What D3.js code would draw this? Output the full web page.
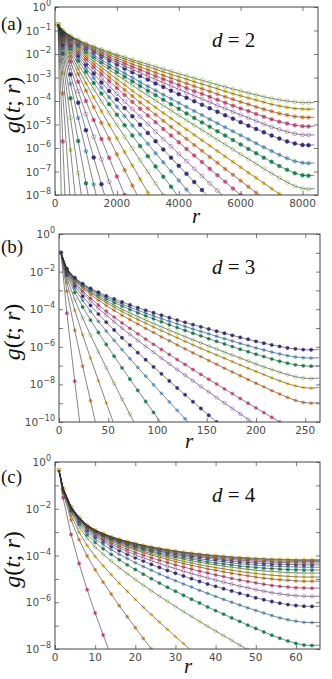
<!DOCTYPE html>
<html>
<head>
<meta charset="utf-8">
<script src="https://cdn.jsdelivr.net/npm/d3@7"></script>
<style>
  body { margin: 0; background: #fff; }
  .tick-label { font-family: 'DejaVu Sans', sans-serif; fill: #4a4a4a; }
  .math { font-family: 'Liberation Serif', 'DejaVu Serif', serif; fill: #111; }
</style>
</head>
<body>
<svg id="fig" width="332" height="679"></svg>
<script>
'use strict';

// ---- data: log10 g(t;r), one array per time t ----

// (a) d = 2
var rA = [100, 250, 500, 750, 1000, 1250, 1500, 1750, 2000, 2250, 2500, 2750, 3000, 3250, 3500, 3750,
    4000, 4250, 4500, 4750, 5000, 5250, 5500, 5750, 6000, 6250, 6500, 6750, 7000, 7250, 7500, 7750, 8000, 8192];
var logGA = [
    [-0.75,-1.00,-1.23,-1.40,-1.55,-1.68,-1.80,-1.91,-2.03,-2.13,-2.24,-2.34,-2.44,-2.54,-2.64,-2.74,-2.84,-2.93,-3.03,-3.12,-3.21,-3.31,-3.40,-3.49,-3.57,-3.66,-3.74,-3.82,-3.89,-3.95,-4.00,-4.04,-4.07,-4.07],
    [-0.75,-1.00,-1.25,-1.42,-1.58,-1.72,-1.85,-1.97,-2.09,-2.21,-2.32,-2.43,-2.54,-2.65,-2.76,-2.87,-2.97,-3.07,-3.18,-3.28,-3.38,-3.48,-3.59,-3.69,-3.78,-3.87,-3.96,-4.05,-4.14,-4.21,-4.27,-4.32,-4.34,-4.35],
    [-0.75,-1.01,-1.26,-1.45,-1.62,-1.77,-1.91,-2.04,-2.17,-2.30,-2.43,-2.55,-2.67,-2.79,-2.91,-3.02,-3.14,-3.25,-3.37,-3.48,-3.59,-3.71,-3.82,-3.93,-4.04,-4.14,-4.25,-4.35,-4.44,-4.53,-4.60,-4.66,-4.69,-4.70],
    [-0.75,-1.02,-1.28,-1.48,-1.66,-1.82,-1.97,-2.12,-2.26,-2.40,-2.54,-2.67,-2.81,-2.94,-3.07,-3.19,-3.32,-3.45,-3.58,-3.70,-3.82,-3.95,-4.07,-4.20,-4.32,-4.43,-4.55,-4.67,-4.78,-4.88,-4.96,-5.03,-5.07,-5.08],
    [-0.75,-1.02,-1.30,-1.51,-1.70,-1.87,-2.04,-2.20,-2.35,-2.50,-2.65,-2.80,-2.94,-3.08,-3.22,-3.36,-3.50,-3.64,-3.78,-3.91,-4.05,-4.19,-4.32,-4.46,-4.59,-4.72,-4.85,-4.98,-5.10,-5.21,-5.31,-5.39,-5.44,-5.45],
    [-0.75,-1.03,-1.32,-1.55,-1.75,-1.93,-2.11,-2.28,-2.45,-2.62,-2.78,-2.94,-3.09,-3.25,-3.40,-3.56,-3.71,-3.86,-4.01,-4.16,-4.31,-4.46,-4.61,-4.75,-4.90,-5.05,-5.19,-5.33,-5.47,-5.60,-5.72,-5.81,-5.87,-5.88],
    [-0.75,-1.05,-1.36,-1.61,-1.83,-2.04,-2.25,-2.44,-2.63,-2.82,-3.00,-3.19,-3.37,-3.55,-3.73,-3.90,-4.08,-4.25,-4.43,-4.60,-4.78,-4.95,-5.12,-5.29,-5.46,-5.63,-5.80,-5.97,-6.13,-6.29,-6.44,-6.56,-6.63,-6.65],
    [-0.75,-1.06,-1.38,-1.65,-1.89,-2.12,-2.34,-2.55,-2.76,-2.96,-3.16,-3.36,-3.56,-3.75,-3.95,-4.14,-4.33,-4.53,-4.72,-4.91,-5.10,-5.29,-5.47,-5.66,-5.85,-6.04,-6.22,-6.41,-6.59,-6.77,-6.93,-7.07,-7.16,-7.18],
    [-0.75,-1.07,-1.41,-1.70,-1.96,-2.20,-2.44,-2.67,-2.89,-3.11,-3.33,-3.55,-3.76,-3.98,-4.19,-4.40,-4.61,-4.82,-5.03,-5.23,-5.44,-5.65,-5.85,-6.06,-6.27,-6.47,-6.67,-6.88,-7.08,-7.27,-7.46,-7.62,-7.72,-7.75],
    [-0.75,-1.08,-1.45,-1.76,-2.04,-2.31,-2.57,-2.82,-3.07,-3.31,-3.56,-3.80,-4.03,-4.27,-4.51,-4.74,-4.97,-5.21,-5.44,-5.67,-5.90,-6.13,-6.36,-6.59,-6.82,-7.05,-7.27,-7.50,-7.73,-7.95,-8.18],
    [-0.75,-1.10,-1.49,-1.82,-2.13,-2.42,-2.70,-2.98,-3.25,-3.52,-3.79,-4.06,-4.32,-4.58,-4.84,-5.10,-5.36,-5.61,-5.87,-6.12,-6.38,-6.63,-6.89,-7.14,-7.39,-7.65,-7.90,-8.15],
    [-0.75,-1.11,-1.53,-1.89,-2.22,-2.54,-2.85,-3.15,-3.45,-3.74,-4.04,-4.33,-4.62,-4.90,-5.19,-5.47,-5.76,-6.04,-6.32,-6.60,-6.88,-7.16,-7.44,-7.72,-8.00,-8.28],
    [-0.75,-1.13,-1.58,-1.97,-2.33,-2.68,-3.02,-3.36,-3.69,-4.02,-4.34,-4.66,-4.98,-5.30,-5.62,-5.93,-6.25,-6.56,-6.88,-7.19,-7.50,-7.81,-8.12],
    [-0.75,-1.15,-1.63,-2.06,-2.45,-2.83,-3.21,-3.57,-3.94,-4.30,-4.65,-5.01,-5.36,-5.71,-6.06,-6.41,-6.76,-7.10,-7.45,-7.79,-8.14],
    [-0.75,-1.17,-1.70,-2.16,-2.60,-3.02,-3.43,-3.84,-4.24,-4.64,-5.04,-5.43,-5.82,-6.22,-6.61,-6.99,-7.38,-7.77,-8.16],
    [-0.75,-1.20,-1.77,-2.28,-2.76,-3.23,-3.68,-4.14,-4.59,-5.03,-5.47,-5.91,-6.35,-6.79,-7.22,-7.65,-8.09],
    [-0.75,-1.24,-1.86,-2.43,-2.97,-3.49,-4.01,-4.52,-5.02,-5.52,-6.02,-6.52,-7.01,-7.51,-8.00,-8.49],
    [-0.75,-1.28,-1.98,-2.62,-3.24,-3.84,-4.43,-5.01,-5.59,-6.17,-6.74,-7.32,-7.89,-8.46],
    [-0.75,-1.33,-2.12,-2.85,-3.56,-4.25,-4.93,-5.60,-6.27,-6.94,-7.60,-8.26],
    [-0.75,-1.41,-2.32,-3.18,-4.00,-4.81,-5.62,-6.42,-7.21,-8.00,-8.79],
    [-0.75,-1.50,-2.57,-3.58,-4.56,-5.52,-6.48,-7.43,-8.38],
    [-0.75,-1.61,-2.87,-4.07,-5.24,-6.40,-7.54,-8.68],
    [-0.75,-1.77,-3.27,-4.72,-6.14,-7.55,-8.95],
    [-0.75,-1.99,-3.88,-5.70,-7.50,-9.28],
    [-0.75,-2.31,-4.72,-7.07,-9.39],
    [-0.75,-2.82,-6.08,-9.28],
    [-0.75,-3.68,-8.37],
    [-0.75,-5.72,-13.82],
    [-0.75,-11.60]
];

// (b) d = 3
var rB = [2, 8, 16, 24, 32, 40, 48, 56, 64, 72, 80, 88, 96, 104, 112, 120, 128, 136, 144, 152,
    160, 168, 176, 184, 192, 200, 208, 216, 224, 232, 240, 248, 256];
var logGB = [
    [-1.00,-1.85,-2.32,-2.64,-2.89,-3.10,-3.29,-3.46,-3.62,-3.77,-3.92,-4.06,-4.19,-4.32,-4.45,-4.58,-4.70,-4.82,-4.94,-5.05,-5.17,-5.28,-5.39,-5.50,-5.60,-5.71,-5.81,-5.90,-5.98,-6.06,-6.11,-6.15,-6.16],
    [-1.00,-1.86,-2.35,-2.68,-2.94,-3.16,-3.37,-3.55,-3.73,-3.89,-4.05,-4.21,-4.36,-4.50,-4.64,-4.78,-4.92,-5.05,-5.18,-5.31,-5.44,-5.57,-5.69,-5.82,-5.94,-6.06,-6.17,-6.28,-6.38,-6.47,-6.54,-6.58,-6.60],
    [-1.00,-1.87,-2.37,-2.71,-2.99,-3.23,-3.45,-3.65,-3.83,-4.01,-4.19,-4.35,-4.51,-4.67,-4.83,-4.98,-5.13,-5.28,-5.42,-5.57,-5.71,-5.85,-5.99,-6.13,-6.26,-6.40,-6.52,-6.65,-6.77,-6.87,-6.96,-7.01,-7.03],
    [-1.00,-1.88,-2.41,-2.77,-3.07,-3.33,-3.56,-3.79,-4.00,-4.20,-4.39,-4.58,-4.76,-4.94,-5.11,-5.29,-5.46,-5.63,-5.79,-5.96,-6.12,-6.28,-6.44,-6.60,-6.76,-6.92,-7.07,-7.21,-7.35,-7.48,-7.59,-7.66,-7.69],
    [-1.00,-1.90,-2.44,-2.82,-3.13,-3.40,-3.66,-3.89,-4.12,-4.34,-4.55,-4.75,-4.95,-5.14,-5.33,-5.52,-5.71,-5.90,-6.08,-6.26,-6.44,-6.61,-6.79,-6.97,-7.14,-7.31,-7.48,-7.65,-7.81,-7.96,-8.08,-8.17,-8.20],
    [-1.00,-1.91,-2.48,-2.89,-3.22,-3.52,-3.80,-4.06,-4.32,-4.56,-4.79,-5.02,-5.24,-5.47,-5.68,-5.90,-6.11,-6.32,-6.52,-6.73,-6.93,-7.14,-7.34,-7.54,-7.74,-7.94,-8.13,-8.33,-8.51,-8.69,-8.85,-8.96,-9.00],
    [-1.00,-1.95,-2.57,-3.03,-3.42,-3.78,-4.11,-4.42,-4.73,-5.02,-5.31,-5.59,-5.87,-6.14,-6.41,-6.68,-6.94,-7.21,-7.47,-7.73,-7.98,-8.24,-8.49,-8.75,-9.00,-9.25,-9.50,-9.75,-10.00,-10.25],
    [-1.00,-1.98,-2.64,-3.13,-3.56,-3.95,-4.31,-4.67,-5.01,-5.34,-5.66,-5.98,-6.29,-6.60,-6.91,-7.21,-7.51,-7.81,-8.11,-8.40,-8.70,-8.99,-9.28,-9.57,-9.86,-10.14],
    [-1.00,-2.03,-2.75,-3.31,-3.80,-4.26,-4.69,-5.11,-5.52,-5.91,-6.31,-6.69,-7.07,-7.44,-7.82,-8.19,-8.55,-8.92,-9.28,-9.64,-10.00,-10.36],
    [-1.00,-2.09,-2.90,-3.54,-4.11,-4.65,-5.16,-5.66,-6.15,-6.63,-7.10,-7.56,-8.02,-8.48,-8.93,-9.38,-9.83,-10.28],
    [-1.00,-2.19,-3.11,-3.88,-4.58,-5.24,-5.88,-6.50,-7.12,-7.72,-8.32,-8.91,-9.49,-10.07],
    [-1.00,-2.35,-3.49,-4.47,-5.38,-6.26,-7.11,-7.95,-8.78,-9.59,-10.40],
    [-1.00,-2.59,-4.06,-5.36,-6.60,-7.80,-8.98,-10.15],
    [-1.00,-3.04,-5.12,-7.03,-8.87,-10.67],
    [-1.00,-4.21,-7.83,-11.29]
];

// (c) d = 4
var rC = [1, 2, 4, 6, 8, 10, 12, 14, 16, 18, 20, 22, 24, 26, 28, 30, 32, 34, 36, 38, 40,
    42, 44, 46, 48, 50, 52, 54, 56, 58, 60, 62, 64];
var logGC = [
    [-0.35,-1.13,-1.92,-2.37,-2.70,-2.91,-3.06,-3.19,-3.30,-3.40,-3.48,-3.56,-3.63,-3.69,-3.75,-3.80,-3.85,-3.89,-3.93,-3.97,-4.00,-4.03,-4.06,-4.08,-4.10,-4.12,-4.14,-4.15,-4.16,-4.17,-4.18,-4.18,-4.18],
    [-0.35,-1.13,-1.92,-2.37,-2.70,-2.91,-3.07,-3.20,-3.31,-3.40,-3.49,-3.57,-3.64,-3.70,-3.76,-3.82,-3.87,-3.91,-3.95,-3.99,-4.02,-4.05,-4.08,-4.11,-4.13,-4.15,-4.16,-4.18,-4.19,-4.20,-4.21,-4.21,-4.21],
    [-0.35,-1.13,-1.92,-2.38,-2.71,-2.92,-3.07,-3.21,-3.32,-3.42,-3.51,-3.59,-3.66,-3.73,-3.79,-3.84,-3.89,-3.94,-3.98,-4.02,-4.06,-4.09,-4.12,-4.15,-4.17,-4.19,-4.21,-4.23,-4.24,-4.25,-4.25,-4.26,-4.26],
    [-0.35,-1.14,-1.92,-2.38,-2.71,-2.93,-3.08,-3.22,-3.34,-3.44,-3.53,-3.61,-3.69,-3.76,-3.82,-3.88,-3.93,-3.98,-4.02,-4.07,-4.10,-4.14,-4.17,-4.20,-4.22,-4.25,-4.27,-4.28,-4.30,-4.31,-4.31,-4.32,-4.32],
    [-0.35,-1.14,-1.93,-2.39,-2.72,-2.94,-3.10,-3.24,-3.36,-3.46,-3.56,-3.64,-3.72,-3.79,-3.86,-3.92,-3.97,-4.03,-4.07,-4.12,-4.16,-4.20,-4.23,-4.27,-4.29,-4.32,-4.34,-4.36,-4.37,-4.38,-4.39,-4.40,-4.40],
    [-0.35,-1.14,-1.93,-2.40,-2.73,-2.96,-3.12,-3.26,-3.38,-3.49,-3.59,-3.68,-3.76,-3.83,-3.90,-3.97,-4.03,-4.08,-4.14,-4.19,-4.23,-4.27,-4.31,-4.35,-4.38,-4.41,-4.43,-4.45,-4.47,-4.48,-4.49,-4.50,-4.50],
    [-0.35,-1.14,-1.94,-2.41,-2.75,-2.97,-3.14,-3.29,-3.41,-3.52,-3.63,-3.72,-3.81,-3.89,-3.96,-4.03,-4.09,-4.15,-4.21,-4.27,-4.32,-4.36,-4.40,-4.45,-4.48,-4.51,-4.54,-4.56,-4.58,-4.60,-4.61,-4.62,-4.62],
    [-0.35,-1.14,-1.94,-2.42,-2.76,-2.99,-3.16,-3.31,-3.44,-3.56,-3.67,-3.76,-3.85,-3.94,-4.02,-4.09,-4.16,-4.23,-4.29,-4.35,-4.40,-4.46,-4.50,-4.55,-4.59,-4.63,-4.66,-4.68,-4.71,-4.73,-4.74,-4.75,-4.75],
    [-0.35,-1.15,-1.95,-2.43,-2.78,-3.02,-3.19,-3.35,-3.48,-3.61,-3.72,-3.82,-3.92,-4.01,-4.09,-4.17,-4.25,-4.32,-4.39,-4.46,-4.52,-4.57,-4.63,-4.68,-4.73,-4.77,-4.81,-4.84,-4.87,-4.89,-4.91,-4.92,-4.92],
    [-0.35,-1.15,-1.96,-2.45,-2.80,-3.04,-3.23,-3.39,-3.53,-3.66,-3.77,-3.88,-3.98,-4.08,-4.17,-4.26,-4.34,-4.42,-4.49,-4.57,-4.63,-4.70,-4.76,-4.82,-4.87,-4.92,-4.97,-5.00,-5.04,-5.06,-5.09,-5.10,-5.10],
    [-0.35,-1.15,-1.97,-2.47,-2.83,-3.09,-3.28,-3.45,-3.60,-3.74,-3.87,-3.98,-4.10,-4.20,-4.30,-4.40,-4.49,-4.58,-4.67,-4.75,-4.83,-4.90,-4.98,-5.05,-5.11,-5.17,-5.23,-5.28,-5.32,-5.35,-5.38,-5.39,-5.40],
    [-0.35,-1.16,-1.99,-2.50,-2.87,-3.14,-3.34,-3.52,-3.68,-3.83,-3.97,-4.10,-4.22,-4.34,-4.46,-4.56,-4.67,-4.77,-4.86,-4.96,-5.05,-5.14,-5.22,-5.31,-5.38,-5.46,-5.53,-5.59,-5.64,-5.69,-5.72,-5.74,-5.75],
    [-0.35,-1.17,-2.01,-2.53,-2.92,-3.20,-3.41,-3.61,-3.79,-3.95,-4.10,-4.24,-4.38,-4.51,-4.64,-4.76,-4.88,-4.99,-5.11,-5.22,-5.32,-5.42,-5.52,-5.62,-5.71,-5.81,-5.89,-5.97,-6.04,-6.10,-6.14,-6.17,-6.18],
    [-0.35,-1.18,-2.04,-2.59,-3.00,-3.30,-3.53,-3.75,-3.95,-4.13,-4.31,-4.47,-4.63,-4.79,-4.94,-5.08,-5.22,-5.35,-5.49,-5.62,-5.75,-5.88,-6.00,-6.12,-6.24,-6.35,-6.46,-6.57,-6.67,-6.75,-6.81,-6.86,-6.87],
    [-0.35,-1.19,-2.09,-2.66,-3.11,-3.44,-3.71,-3.95,-4.18,-4.40,-4.60,-4.80,-4.99,-5.18,-5.36,-5.53,-5.70,-5.87,-6.03,-6.20,-6.36,-6.51,-6.67,-6.82,-6.98,-7.12,-7.27,-7.41,-7.54,-7.66,-7.76,-7.83,-7.85],
    [-0.35,-1.21,-2.16,-2.78,-3.26,-3.64,-3.95,-4.24,-4.52,-4.78,-5.03,-5.27,-5.51,-5.74,-5.96,-6.18,-6.40,-6.61,-6.82,-7.03,-7.23,-7.43,-7.63,-7.83,-8.03],
    [-0.35,-1.26,-2.29,-3.00,-3.57,-4.04,-4.44,-4.82,-5.19,-5.53,-5.88,-6.21,-6.53,-6.85,-7.16,-7.47,-7.77,-8.07],
    [-0.35,-1.32,-2.48,-3.32,-4.02,-4.61,-5.14,-5.65,-6.15,-6.62,-7.09,-7.55,-8.00,-8.45],
    [-0.35,-1.53,-3.10,-4.34,-5.46,-6.46,-7.40,-8.32]
];

// tick values
var xTicksA = [0, 2000, 4000, 6000, 8000];
var xTicksB = [0, 50, 100, 150, 200, 250];
var xTicksC = [0, 10, 20, 30, 40, 50, 60];
var yExpLabelsA = [0, -1, -2, -3, -4, -5, -6, -7, -8];
var yExpLabelsB = [0, -2, -4, -6, -8, -10];
var yExpLabelsC = [0, -2, -4, -6, -8];

// colour cycle, counted from the steepest curve upward
var colourCycle = ['#ee5a8e', '#f59b4f', '#f2d144', '#b3d67c', '#1e9c5e', '#74b6e5', '#3d2d8b', '#c690df'];
var hollowCycle = [false, false, false, true, false, false, false, true];

var svg = d3.select('#fig');

/**
 * Draw one panel of the figure
 */
var drawPanel = function(p) {
    var g = svg.append('g');
    var x = d3.scaleLinear().domain(p.xDomain).range([p.left, p.right]);
    var yMin = p.yExps[p.yExps.length - 1];
    var y = d3.scaleLog().domain([Math.pow(10, yMin), 1]).range([p.bottom, p.top]);

    var clipId = 'clip-' + p.name;
    svg.append('clipPath').attr('id', clipId)
            .append('rect')
            .attr('x', p.left).attr('y', p.top)
            .attr('width', p.right - p.left).attr('height', p.bottom - p.top);

    var plot = g.append('g').attr('clip-path', 'url(#' + clipId + ')');
    var n = p.series.length;
    var nr = p.r.length;

    // markers
    for (var i = n - 1; i >= 0; i--) {
        var ci = (n - 1 - i + p.colourOffset) % 8;
        var col = colourCycle[ci];
        var hollow = hollowCycle[ci];
        var pts = p.series[i]
                .map(function(v, k) { return [p.r[k], v]; })
                .filter(function(d) { return d[1] >= yMin - 0.05; });
        plot.selectAll(null)
                .data(pts)
                .enter()
                .append('circle')
                .attr('cx', function(d) { return x(d[0]); })
                .attr('cy', function(d) { return y(Math.pow(10, d[1])); })
                .attr('r', p.markerR)
                .style('fill', hollow ? 'none' : col)
                .style('stroke', col)
                .style('stroke-width', hollow ? 0.9 : 0.4);
    }

    // fitted curves drawn on top; the fit is symmetric about r = L/2,
    // so a curve reaching the last point is continued by its mirror image
    var line = d3.line()
            .x(function(d) { return x(d[0]); })
            .y(function(d) { return y(Math.pow(10, d[1])); });
    p.series.forEach(function(vals) {
        var pts = vals.map(function(v, k) { return [p.r[k], v]; });
        if (vals.length === nr) {
            pts.push([2 * p.r[nr - 1] - p.r[nr - 2], vals[nr - 2]]);
        }
        plot.append('path')
                .attr('d', line(pts))
                .style('fill', 'none')
                .style('stroke', '#333')
                .style('stroke-width', 0.7)
                .style('stroke-opacity', 0.85);
    });

    // axes: inward ticks on all four sides
    var decades = d3.range(0, yMin - 1, -1).map(function(e) { return Math.pow(10, e); });
    g.append('g').attr('transform', 'translate(0,' + p.bottom + ')')
            .call(d3.axisBottom(x).tickValues(p.xTicks).tickSizeInner(-4).tickSizeOuter(0).tickFormat(''));
    g.append('g').attr('transform', 'translate(0,' + p.top + ')')
            .call(d3.axisTop(x).tickValues(p.xTicks).tickSizeInner(-4).tickSizeOuter(0).tickFormat(''));
    g.append('g').attr('transform', 'translate(' + p.left + ',0)')
            .call(d3.axisLeft(y).tickValues(decades).tickSizeInner(-4).tickSizeOuter(0).tickFormat(''));
    g.append('g').attr('transform', 'translate(' + p.right + ',0)')
            .call(d3.axisRight(y).tickValues(decades).tickSizeInner(-4).tickSizeOuter(0).tickFormat(''));
    g.selectAll('.domain').remove();
    g.selectAll('.tick line').style('stroke', '#555').style('stroke-width', 0.8);

    g.append('rect')
            .attr('x', p.left).attr('y', p.top)
            .attr('width', p.right - p.left).attr('height', p.bottom - p.top)
            .style('fill', 'none').style('stroke', '#444').style('stroke-width', 1);

    // x tick labels
    p.xTicks.forEach(function(t) {
        g.append('text')
                .attr('class', 'tick-label')
                .attr('x', x(t))
                .attr('y', p.bottom + 12)
                .attr('text-anchor', 'middle')
                .attr('font-size', 10.5)
                .text(t);
    });

    // y tick labels 10^e
    p.yExps.forEach(function(e) {
        var t = g.append('text')
                .attr('class', 'tick-label')
                .attr('x', p.left - 4)
                .attr('y', y(Math.pow(10, e)) + 4)
                .attr('text-anchor', 'end')
                .attr('font-size', 10.5);
        t.append('tspan').text('10');
        t.append('tspan').attr('dy', -5).attr('font-size', 8)
                .text(e === 0 ? '0' : '\u2212' + Math.abs(e));
    });

    // panel letter
    g.append('text').attr('class', 'math')
            .attr('x', 1).attr('y', p.top + p.letterDy)
            .attr('font-size', 19)
            .text('(' + p.name + ')');

    // d = n
    var dl = g.append('text').attr('class', 'math')
            .attr('x', 212).attr('y', p.top + 40)
            .attr('font-size', 21);
    dl.append('tspan').attr('font-style', 'italic').text('d');
    dl.append('tspan').text(' = ' + p.dim);

    // y label g(t; r)
    var yl = g.append('text').attr('class', 'math')
            .attr('transform', 'translate(20,' + ((p.top + p.bottom) / 2 + 4) + ') rotate(-90)')
            .attr('text-anchor', 'middle')
            .attr('font-size', 24);
    yl.append('tspan').attr('font-style', 'italic').text('g');
    yl.append('tspan').text('(');
    yl.append('tspan').attr('font-style', 'italic').text('t');
    yl.append('tspan').text('; ');
    yl.append('tspan').attr('font-style', 'italic').text('r');
    yl.append('tspan').text(')');

    // x label r
    g.append('text').attr('class', 'math')
            .attr('x', p.xLabelX)
            .attr('y', p.xLabelY)
            .attr('text-anchor', 'middle')
            .attr('font-size', 21)
            .attr('font-style', 'italic')
            .text('r');
};

drawPanel({
    name: 'a', dim: 2, r: rA, series: logGA, colourOffset: 7,
    xDomain: [0, 8500], xTicks: xTicksA, yExps: yExpLabelsA,
    left: 55, right: 318, top: 7, bottom: 195, markerR: 2.0, letterDy: 23,
    xLabelX: 196, xLabelY: 223
});
drawPanel({
    name: 'b', dim: 3, r: rB, series: logGB, colourOffset: 0,
    xDomain: [0, 265], xTicks: xTicksB, yExps: yExpLabelsB,
    left: 59, right: 320, top: 234, bottom: 422, markerR: 1.7, letterDy: 19,
    xLabelX: 189, xLabelY: 448
});
drawPanel({
    name: 'c', dim: 4, r: rC, series: logGC, colourOffset: 0,
    xDomain: [0, 66], xTicks: xTicksC, yExps: yExpLabelsC,
    left: 55, right: 320, top: 462, bottom: 649, markerR: 1.7, letterDy: 21,
    xLabelX: 188, xLabelY: 673
});
</script>
</body>
</html>
